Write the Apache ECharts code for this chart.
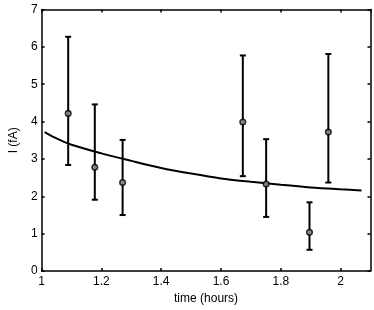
<!DOCTYPE html>
<html>
<head>
<meta charset="utf-8">
<script src="https://cdn.jsdelivr.net/npm/echarts@6/dist/echarts.min.js"></script>
<style>html,body{margin:0;padding:0;background:#fff}#c{width:374px;height:310px}</style>
</head>
<body>
<div id="c"></div>
<script>
var timeX = [1.089, 1.178, 1.271, 1.673, 1.751, 1.896, 1.959];
var currentY = [4.22, 2.78, 2.37, 3.99, 2.33, 1.04, 3.72];
var errLow = [2.84, 1.91, 1.50, 2.54, 1.45, 0.57, 2.37];
var errHigh = [6.27, 4.46, 3.51, 5.77, 3.53, 1.84, 5.81];
var fitX = [1.01, 1.05, 1.1, 1.2, 1.3, 1.4, 1.5, 1.6, 1.7, 1.8, 1.9, 2.0, 2.07];
var fitY = [3.72, 3.55, 3.38, 3.15, 2.95, 2.76, 2.61, 2.48, 2.39, 2.31, 2.24, 2.19, 2.16];
var xTicks = [1, 1.2, 1.4, 1.6, 1.8, 2];
var yTicks = [0, 1, 2, 3, 4, 5, 6, 7];

var font = 'Liberation Sans, Arial, sans-serif';
var chart = echarts.init(document.getElementById('c'));
var errData = timeX.map(function (x, i) { return [x, errLow[i], errHigh[i]]; });
var ptData = timeX.map(function (x, i) { return [x, currentY[i]]; });
var fitData = fitX.map(function (x, i) { return [x, fitY[i]]; });

function axisCommon(show) {
  return {
    axisLine: { show: true, onZero: false, lineStyle: { color: '#000', width: 1.5 } },
    axisTick: { show: true, inside: true, length: 3, lineStyle: { color: '#000', width: 1.5 } },
    splitLine: { show: false },
    axisLabel: { show: show, color: '#000', fontFamily: font, fontSize: 12 }
  };
}
var xb = Object.assign({ type: 'value', min: 1, max: 2.1, interval: 0.2, position: 'bottom',
  name: 'time (hours)', nameLocation: 'middle', nameGap: 20,
  nameTextStyle: { color: '#000', fontFamily: font, fontSize: 12 } }, axisCommon(true));
xb.axisLabel.margin = 5;
xb.axisLabel.showMaxLabel = false;
xb.axisLabel.formatter = function (v) { return xTicks.indexOf(+v.toFixed(1)) >= 0 ? String(+v.toFixed(1)) : ''; };
var xt = Object.assign({ type: 'value', min: 1, max: 2.1, interval: 0.2, position: 'top' }, axisCommon(false));
var yl = Object.assign({ type: 'value', min: 0, max: 7, interval: 1, position: 'left',
  name: 'I (fA)', nameLocation: 'middle', nameGap: 17,
  nameTextStyle: { color: '#000', fontFamily: font, fontSize: 12 } }, axisCommon(true));
yl.axisLabel.margin = 4;
yl.axisLabel.formatter = function (v) { return yTicks.indexOf(v) >= 0 ? String(v) : ''; };
var yr = Object.assign({ type: 'value', min: 0, max: 7, interval: 1, position: 'right' }, axisCommon(false));

chart.setOption({
  animation: false,
  grid: { left: 28.5, right: 3.5, top: 9.5, bottom: 31, containLabel: false },
  xAxis: [xb, xt],
  yAxis: [yl, yr],
  series: [
    {
      type: 'line', data: fitData, showSymbol: false, smooth: 0.3,
      lineStyle: { color: '#000', width: 2 }, z: 2
    },
    {
      type: 'custom', data: errData, z: 3,
      renderItem: function (params, api) {
        var x = api.value(0);
        var lo = api.coord([x, api.value(1)]);
        var hi = api.coord([x, api.value(2)]);
        var w = 3;
        var st = { stroke: '#000', lineWidth: 2 };
        return { type: 'group', children: [
          { type: 'line', shape: { x1: lo[0], y1: lo[1], x2: hi[0], y2: hi[1] }, style: st },
          { type: 'line', shape: { x1: lo[0] - w, y1: lo[1], x2: lo[0] + w, y2: lo[1] }, style: st },
          { type: 'line', shape: { x1: hi[0] - w, y1: hi[1], x2: hi[0] + w, y2: hi[1] }, style: st }
        ]};
      }
    },
    {
      type: 'scatter', data: ptData, symbol: 'circle', symbolSize: 5.5, z: 4,
      itemStyle: { color: '#999', borderColor: '#000', borderWidth: 1.6 }
    }
  ]
});
</script>
</body>
</html>
